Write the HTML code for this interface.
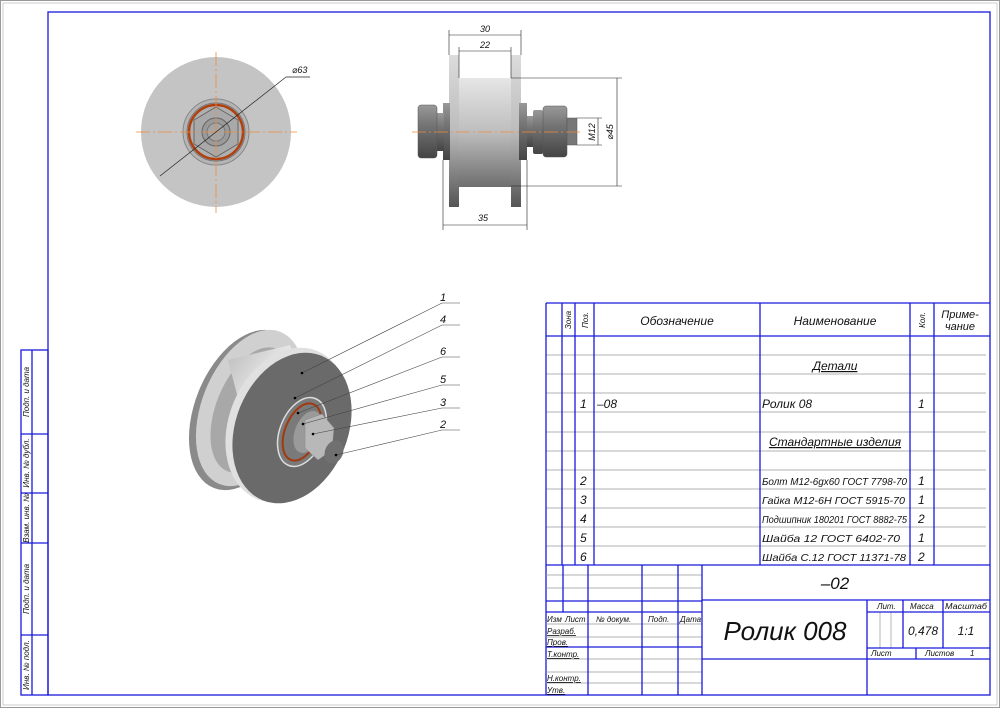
<!DOCTYPE html>
<html><head><meta charset="utf-8"><style>
html,body{margin:0;padding:0;background:#fff;}
svg{display:block;}
text{font-family:"Liberation Sans","DejaVu Sans",sans-serif;font-style:italic;fill:#111;}
</style></head><body>
<svg width="1000" height="708" viewBox="0 0 1000 708" xmlns="http://www.w3.org/2000/svg">
<defs>
<linearGradient id="drum" x1="0" y1="0" x2="0" y2="1"><stop offset="0" stop-color="#e6e6e6"/><stop offset="0.5" stop-color="#bdbdbd"/><stop offset="1" stop-color="#6e6e6e"/></linearGradient>
<linearGradient id="fl" x1="0" y1="0" x2="0" y2="1"><stop offset="0" stop-color="#dcdcdc"/><stop offset="0.5" stop-color="#bcbcbc"/><stop offset="1" stop-color="#555"/></linearGradient>
<linearGradient id="bolt" x1="0" y1="0" x2="0" y2="1"><stop offset="0" stop-color="#999"/><stop offset="0.35" stop-color="#777"/><stop offset="1" stop-color="#444"/></linearGradient>
<linearGradient id="iso" x1="0" y1="0" x2="1" y2="1"><stop offset="0" stop-color="#bbb"/><stop offset="0.4" stop-color="#f2f2f2"/><stop offset="1" stop-color="#888"/></linearGradient>
</defs>
<rect x="0.5" y="0.5" width="999" height="707" fill="#fff" stroke="#999"/>
<rect x="3" y="3" width="994" height="702" fill="none" stroke="#ccc"/>
<g stroke="#1a1adc" stroke-width="1.3" fill="none">
<rect x="48" y="12" width="942" height="683"/>
<rect x="21" y="350" width="27" height="345"/>
<line x1="32" y1="350" x2="32" y2="695"/>
<line x1="21" y1="434" x2="48" y2="434"/><line x1="21" y1="493" x2="48" y2="493"/>
<line x1="21" y1="543" x2="48" y2="543"/><line x1="21" y1="635" x2="48" y2="635"/>
</g>
<g font-size="8">
<text transform="translate(29,392) rotate(-90)" text-anchor="middle">Подп. и дата</text>
<text transform="translate(29,463) rotate(-90)" text-anchor="middle">Инв. № дубл.</text>
<text transform="translate(29,518) rotate(-90)" text-anchor="middle">Взам. инв. №</text>
<text transform="translate(29,589) rotate(-90)" text-anchor="middle">Подп. и дата</text>
<text transform="translate(29,665) rotate(-90)" text-anchor="middle">Инв. № подл.</text>
</g>

<!-- front view -->
<circle cx="216" cy="132" r="75" fill="#c4c4c4"/>
<circle cx="216" cy="132" r="33" fill="#b5b5b5" stroke="#888"/>
<circle cx="216" cy="132" r="29" fill="#b0b0b0" stroke="#777"/>
<circle cx="216" cy="132" r="27" fill="none" stroke="#b04010" stroke-width="2.5"/>
<polygon points="216,107 238,120 238,144 216,157 194,144 194,120" fill="#a9a9a9" stroke="#666"/>
<circle cx="216" cy="132" r="14" fill="#9a9a9a" stroke="#666"/>
<circle cx="216" cy="132" r="9" fill="#a5a5a5" stroke="#777"/>
<g stroke="#f08a3a" stroke-width="0.8" stroke-dasharray="14,3,2,3"><line x1="136" y1="132" x2="297" y2="132"/><line x1="216" y1="52" x2="216" y2="213"/></g>
<line x1="160" y1="176" x2="286" y2="77" stroke="#222" stroke-width="0.7"/><line x1="286" y1="77" x2="310" y2="77" stroke="#222" stroke-width="0.7"/>
<text x="292" y="73" font-size="9">⌀63</text>

<!-- side view -->
<rect x="459" y="78" width="52" height="109" fill="url(#drum)"/>
<rect x="449" y="55" width="10" height="152" fill="url(#fl)"/>
<rect x="511" y="55" width="10" height="152" fill="url(#fl)"/>
<rect x="443" y="103" width="7" height="57" fill="url(#bolt)"/>
<rect x="519" y="103" width="8" height="57" fill="url(#bolt)"/>
<rect x="437" y="113" width="7" height="38" fill="url(#bolt)"/>
<rect x="418" y="105" width="19" height="53" rx="3" fill="url(#bolt)" stroke="#555" stroke-width="0.5"/>
<rect x="527" y="116" width="8" height="31" fill="url(#bolt)"/>
<rect x="533" y="110" width="10" height="44" rx="2" fill="url(#bolt)"/>
<rect x="543" y="106" width="24" height="51" rx="3" fill="url(#bolt)" stroke="#555" stroke-width="0.5"/>
<rect x="567" y="118" width="10" height="27" fill="#777" stroke="#555" stroke-width="0.5"/>
<line x1="412" y1="132" x2="580" y2="132" stroke="#f08a3a" stroke-width="0.8" stroke-dasharray="14,3,2,3"/>
<g stroke="#222" stroke-width="0.6" fill="none">
<line x1="449" y1="30" x2="449" y2="55"/><line x1="521" y1="30" x2="521" y2="55"/><line x1="449" y1="35" x2="521" y2="35"/>
<line x1="459" y1="47" x2="459" y2="78"/><line x1="511" y1="47" x2="511" y2="78"/><line x1="459" y1="51" x2="511" y2="51"/>
<line x1="443" y1="160" x2="443" y2="230"/><line x1="527" y1="160" x2="527" y2="230"/><line x1="443" y1="225" x2="527" y2="225"/>
<line x1="511" y1="78" x2="622" y2="78"/><line x1="511" y1="186" x2="622" y2="186"/><line x1="617" y1="78" x2="617" y2="186"/>
<line x1="577" y1="118" x2="602" y2="118"/><line x1="577" y1="145" x2="602" y2="145"/><line x1="598" y1="118" x2="598" y2="145"/>
</g>
<text x="485" y="32" font-size="9" text-anchor="middle">30</text>
<text x="485" y="48" font-size="9" text-anchor="middle">22</text>
<text x="483" y="221" font-size="9" text-anchor="middle">35</text>
<text transform="translate(595,132) rotate(-90)" font-size="9" text-anchor="middle">M12</text>
<text transform="translate(613,132) rotate(-90)" font-size="9" text-anchor="middle">⌀45</text>

<!-- isometric -->
<ellipse cx="245" cy="410" rx="50" ry="84" transform="rotate(22 245 410)" fill="#8a8a8a"/>
<ellipse cx="250" cy="408" rx="48" ry="82" transform="rotate(22 250 408)" fill="#d0d0d0"/>
<ellipse cx="252" cy="410" rx="36" ry="66" transform="rotate(22 252 410)" fill="#a8a8a8"/>
<polygon points="228,360 290,345 330,470 262,490" fill="url(#iso)"/>
<ellipse cx="287" cy="425" rx="58" ry="80" transform="rotate(22 287 425)" fill="#e0e0e0"/>
<ellipse cx="292" cy="428" rx="56" ry="78" transform="rotate(22 292 428)" fill="#6a6a6a"/>
<ellipse cx="302" cy="432" rx="22" ry="36" transform="rotate(22 302 432)" fill="#7a7a7a" stroke="#ddd" stroke-width="1.5"/>
<ellipse cx="302" cy="432" rx="17" ry="30" transform="rotate(22 302 432)" fill="none" stroke="#a23a10" stroke-width="2"/>
<ellipse cx="308" cy="432" rx="13" ry="22" transform="rotate(22 308 432)" fill="#9a9a9a"/>
<polygon points="305,420 322,414 334,428 332,450 318,460 305,448" fill="#b8b8b8" stroke="#888" stroke-width="0.5"/>
<ellipse cx="334" cy="452" rx="9" ry="12" transform="rotate(22 334 452)" fill="#707070"/>
<g stroke="#444" stroke-width="0.6" fill="none">
<polyline points="302,373 442,303 460,303"/><polyline points="295,398 442,325 460,325"/>
<polyline points="298,413 442,357 460,357"/><polyline points="303,424 442,385 460,385"/>
<polyline points="313,434 442,408 460,408"/><polyline points="336,455 442,430 460,430"/>
</g>
<g fill="#000"><circle cx="302" cy="373" r="1.3"/><circle cx="295" cy="398" r="1.3"/><circle cx="298" cy="413" r="1.3"/><circle cx="303" cy="424" r="1.3"/><circle cx="313" cy="434" r="1.3"/><circle cx="336" cy="455" r="1.3"/></g>
<g font-size="11"><text x="440" y="301">1</text><text x="440" y="323">4</text><text x="440" y="355">6</text><text x="440" y="383">5</text><text x="440" y="406">3</text><text x="440" y="428">2</text></g>

<!-- spec table -->
<g stroke="#999" stroke-width="0.7">
<line x1="546" y1="355" x2="986" y2="355"/><line x1="546" y1="374" x2="986" y2="374"/><line x1="546" y1="393" x2="986" y2="393"/>
<line x1="546" y1="412" x2="986" y2="412"/><line x1="546" y1="432" x2="986" y2="432"/><line x1="546" y1="451" x2="986" y2="451"/>
<line x1="546" y1="470" x2="986" y2="470"/><line x1="546" y1="489" x2="986" y2="489"/><line x1="546" y1="508" x2="986" y2="508"/>
<line x1="546" y1="527" x2="986" y2="527"/><line x1="546" y1="546" x2="986" y2="546"/>
</g>
<g stroke="#1a1adc" stroke-width="1.3" fill="none">
<line x1="546" y1="303" x2="990" y2="303"/><line x1="546" y1="303" x2="546" y2="695"/>
<line x1="546" y1="336" x2="990" y2="336"/>
<line x1="562" y1="303" x2="562" y2="565"/><line x1="575" y1="303" x2="575" y2="565"/>
<line x1="594" y1="303" x2="594" y2="565"/><line x1="760" y1="303" x2="760" y2="565"/>
<line x1="910" y1="303" x2="910" y2="565"/><line x1="934" y1="303" x2="934" y2="565"/>
<line x1="546" y1="565" x2="990" y2="565"/>
</g>
<g font-size="12">
<text transform="translate(571,320) rotate(-90)" font-size="8" text-anchor="middle">Зона</text>
<text transform="translate(588,320) rotate(-90)" font-size="8" text-anchor="middle">Поз.</text>
<text x="677" y="325" text-anchor="middle">Обозначение</text>
<text x="835" y="325" text-anchor="middle">Наименование</text>
<text transform="translate(925,320) rotate(-90)" font-size="8" text-anchor="middle">Кол.</text>
<text x="960" y="318" text-anchor="middle" font-size="11">Приме-</text>
<text x="960" y="330" text-anchor="middle" font-size="11">чание</text>
<text x="835" y="370" text-anchor="middle" text-decoration="underline">Детали</text>
<text x="580" y="408">1</text><text x="597" y="408">–08</text><text x="762" y="408">Ролик 08</text><text x="918" y="408">1</text>
<text x="835" y="446" text-anchor="middle" text-decoration="underline">Стандартные изделия</text>
<text x="580" y="485">2</text><text x="580" y="504">3</text><text x="580" y="523">4</text><text x="580" y="542">5</text><text x="580" y="561">6</text>
<g font-size="10.5">
<text x="762" y="485" textLength="145" lengthAdjust="spacingAndGlyphs">Болт M12-6gx60 ГОСТ 7798-70</text>
<text x="762" y="504" textLength="143" lengthAdjust="spacingAndGlyphs">Гайка M12-6H ГОСТ 5915-70</text>
<text x="762" y="523" textLength="145" lengthAdjust="spacingAndGlyphs">Подшипник 180201 ГОСТ 8882-75</text>
<text x="762" y="542" textLength="138" lengthAdjust="spacingAndGlyphs">Шайба 12 ГОСТ 6402-70</text>
<text x="762" y="561" textLength="144" lengthAdjust="spacingAndGlyphs">Шайба С.12 ГОСТ 11371-78</text>
</g>
<text x="918" y="485">1</text><text x="918" y="504">1</text><text x="918" y="523">2</text><text x="918" y="542">1</text><text x="918" y="561">2</text>
</g>

<!-- title block -->
<g stroke="#999" stroke-width="0.7">
<line x1="546" y1="575" x2="702" y2="575"/><line x1="546" y1="588" x2="702" y2="588"/>
<line x1="546" y1="624" x2="702" y2="624"/><line x1="546" y1="637" x2="702" y2="637"/>
<line x1="546" y1="659" x2="702" y2="659"/><line x1="546" y1="672" x2="702" y2="672"/><line x1="546" y1="683" x2="702" y2="683"/>
<line x1="880" y1="612" x2="880" y2="648"/><line x1="891" y1="612" x2="891" y2="648"/>
</g>
<g stroke="#1a1adc" stroke-width="1.3" fill="none">
<line x1="546" y1="601" x2="702" y2="601"/><line x1="546" y1="612" x2="702" y2="612"/>
<line x1="546" y1="647" x2="702" y2="647"/>
<line x1="563" y1="565" x2="563" y2="612"/><line x1="588" y1="565" x2="588" y2="695"/>
<line x1="642" y1="565" x2="642" y2="695"/><line x1="678" y1="565" x2="678" y2="695"/>
<line x1="702" y1="565" x2="702" y2="695"/>
<line x1="702" y1="600" x2="990" y2="600"/><line x1="702" y1="659" x2="990" y2="659"/>
<line x1="867" y1="600" x2="867" y2="695"/>
<line x1="867" y1="612" x2="990" y2="612"/><line x1="867" y1="648" x2="990" y2="648"/>
<line x1="903" y1="600" x2="903" y2="648"/><line x1="943" y1="600" x2="943" y2="648"/>
<line x1="916" y1="648" x2="916" y2="659"/>
</g>
<g font-size="8">
<text x="547" y="622">Изм</text><text x="565" y="622">Лист</text><text x="596" y="622">№ докум.</text><text x="648" y="622">Подп.</text><text x="680" y="622">Дата</text>
<text x="547" y="634" text-decoration="underline">Разраб.</text><text x="547" y="645" text-decoration="underline">Пров.</text>
<text x="547" y="657" text-decoration="underline">Т.контр.</text><text x="547" y="681" text-decoration="underline">Н.контр.</text>
<text x="547" y="693" text-decoration="underline">Утв.</text>
<text x="877" y="609">Лит.</text><text x="910" y="609">Масса</text><text x="945" y="609" textLength="42" lengthAdjust="spacingAndGlyphs">Масштаб</text>
<text x="871" y="656">Лист</text><text x="925" y="656">Листов</text><text x="970" y="656">1</text>
</g>
<text x="835" y="589" font-size="17" text-anchor="middle">–02</text>
<text x="785" y="640" font-size="26" text-anchor="middle">Ролик 008</text>
<text x="923" y="635" font-size="12" text-anchor="middle">0,478</text>
<text x="966" y="635" font-size="12" text-anchor="middle">1:1</text>
</svg>
</body></html>
